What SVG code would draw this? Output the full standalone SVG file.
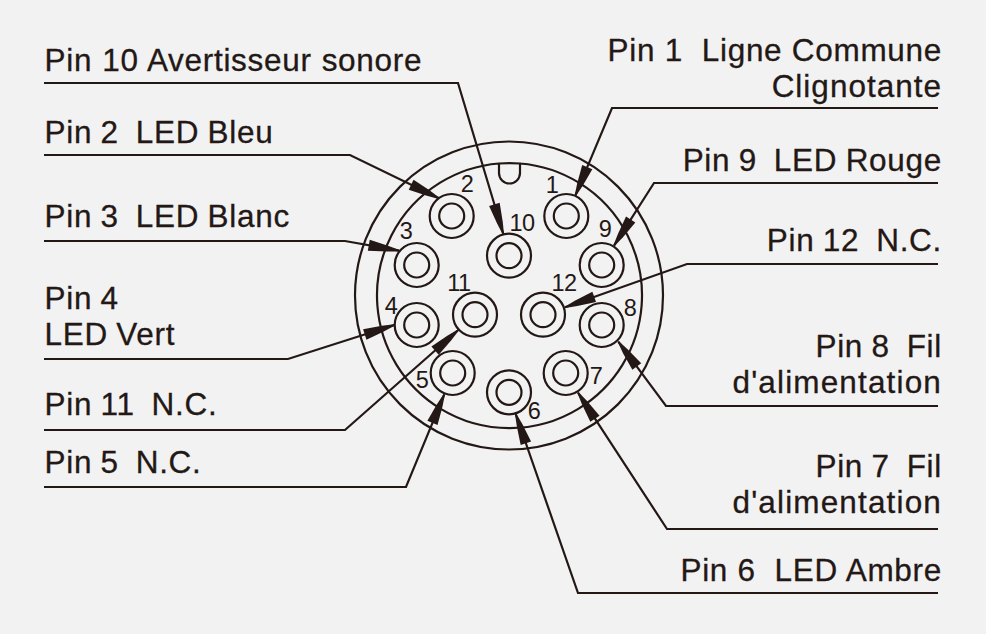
<svg xmlns="http://www.w3.org/2000/svg" width="986" height="634" viewBox="0 0 986 634">
<style>
.s{fill:none;stroke:#231815;stroke-width:2.2}
.l{fill:none;stroke:#231815;stroke-width:2.2;marker-end:url(#a)}
.t{font-family:"Liberation Sans",Arial,sans-serif;font-size:31.5px;letter-spacing:.7px;word-spacing:-1px;fill:#231815;stroke:#231815;stroke-width:.3;white-space:pre}
.e{text-anchor:end}
.w{letter-spacing:1.15px;word-spacing:0}
.n{font-family:"Liberation Sans",Arial,sans-serif;font-size:23.5px;letter-spacing:-.5px;fill:#231815;text-anchor:middle}
</style>
<defs>
<marker id="a" markerUnits="userSpaceOnUse" markerWidth="34" markerHeight="14" refX="32" refY="7" orient="auto"><path d="M1,1.5 L20,4 L32,6.3 L32,7.7 L20,10 L1,12.5 Z" fill="#231815"/></marker>
<g id="pin"><circle class="s" r="22"/><circle class="s" r="12.5"/></g>
</defs>
<rect width="986" height="634" fill="#f2f2f2"/>
<g id="connector-body">
<circle class="s" cx="509" cy="295.5" r="154"/>
<path class="s" d="M499,163.5 A132.5,132.5 0 1 0 520,163.5 M499,163.5 V173 A10.5,10.5 0 0 0 520,173 V163.5 A132.5,132.5 0 0 0 499,163.5"/>
</g>
<g id="connectors">
<polyline class="l" points="44,83 458,83 503.3,234"/>
<polyline class="l" points="44,155 350,155 439,198.3"/>
<polyline class="l" points="44,241 345,241 399.3,250.7"/>
<polyline class="l" points="44,359 288,359 394.3,325"/>
<polyline class="l" points="44,430 345,430 458.3,330"/>
<polyline class="l" points="44,487 406,487 444.3,394.3"/>
<polyline class="l" points="938,593 578,593 515.7,414"/>
<polyline class="l" points="938,529 667,529 578,392.7"/>
<polyline class="l" points="938,406 666,406 618.3,341.7"/>
<polyline class="l" points="938,264 687,264 565,307.3"/>
<polyline class="l" points="938,183 654,183 614,245.7"/>
<polyline class="l" points="938,108 612,108 575.3,195.7"/>
</g>
<g id="pin-1"><use href="#pin" x="566.3" y="216"/><text class="n" x="552" y="193">1</text><text class="t e" x="942" y="61" style="word-spacing:0">Pin 1  Ligne Commune</text><text class="t e w" x="942" y="97" style="letter-spacing:1px">Clignotante</text></g>
<g id="pin-2"><use href="#pin" x="451.7" y="216"/><text class="n" x="467" y="191.7">2</text><text class="t" x="44.5" y="143">Pin 2  LED Bleu</text></g>
<g id="pin-3"><use href="#pin" x="416.7" y="265"/><text class="n" x="406" y="239">3</text><text class="t" x="44.5" y="227">Pin 3  LED Blanc</text></g>
<g id="pin-4"><use href="#pin" x="416.7" y="325"/><text class="n" x="391" y="314">4</text><text class="t" x="44.5" y="309">Pin 4</text><text class="t" x="44.5" y="345">LED Vert</text></g>
<g id="pin-5"><use href="#pin" x="452.7" y="373"/><text class="n" x="422" y="388">5</text><text class="t" x="44.5" y="473">Pin 5  N.C.</text></g>
<g id="pin-6"><use href="#pin" x="509" y="392.3"/><text class="n" x="534" y="419">6</text><text class="t e" x="942" y="581" style="word-spacing:0">Pin 6  LED Ambre</text></g>
<g id="pin-7"><use href="#pin" x="565.7" y="373"/><text class="n" x="596" y="383.7">7</text><text class="t e" x="942" y="477">Pin 7  Fil</text><text class="t e w" x="942" y="513">d'alimentation</text></g>
<g id="pin-8"><use href="#pin" x="601.7" y="325"/><text class="n" x="630" y="315.7">8</text><text class="t e" x="942" y="357">Pin 8  Fil</text><text class="t e w" x="942" y="393">d'alimentation</text></g>
<g id="pin-9"><use href="#pin" x="601.7" y="265"/><text class="n" x="605" y="236.7">9</text><text class="t e" x="942" y="171">Pin 9  LED Rouge</text></g>
<g id="pin-10"><use href="#pin" x="509" y="255.7"/><text class="n" x="522" y="231">10</text><text class="t" x="44.5" y="71" style="word-spacing:.6px">Pin 10 Avertisseur sonore</text></g>
<g id="pin-11"><use href="#pin" x="475" y="314.7"/><text class="n" x="459" y="290.7">11</text><text class="t" x="44.5" y="415">Pin 11  N.C.</text></g>
<g id="pin-12"><use href="#pin" x="543" y="314.7"/><text class="n" x="564" y="290.7">12</text><text class="t e" x="942" y="251">Pin 12  N.C.</text></g>
</svg>
